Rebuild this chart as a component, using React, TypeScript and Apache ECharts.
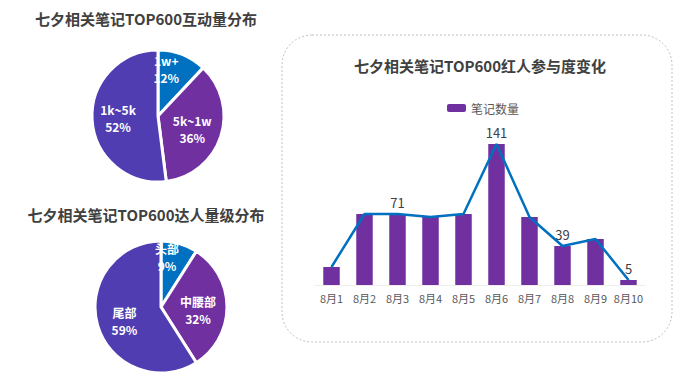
import React, { useEffect, useRef } from "react";
import * as echarts from "echarts";

const titles = ["七夕相关笔记TOP600互动量分布", "七夕相关笔记TOP600达人量级分布", "七夕相关笔记TOP600红人参与度变化"];

const interactNames = ["1w+", "5k~1w", "1k~5k"];
const interactValues = [12, 36, 52];

const kolNames = ["头部", "中腰部", "尾部"];
const kolValues = [9, 32, 59];

const days = ["8月1", "8月2", "8月3", "8月4", "8月5", "8月6", "8月7", "8月8", "8月9", "8月10"];
const noteCounts = [18, 71, 71, 68, 71, 141, 68, 39, 46, 5];
const labelledDays = ["8月3", "8月6", "8月8", "8月10"];

const sliceColors = ["#0070C0", "#7030A0", "#503DB2"];
const FONT = "'Noto Sans CJK SC', 'Microsoft YaHei', sans-serif";

export default function App() {
  const ref = useRef<HTMLDivElement>(null);
  useEffect(() => {
    document.body.style.margin = "0";
    const chart = echarts.init(ref.current!, undefined, { renderer: "svg" });
    const pieOffsets1 = [[-5, -14], [0, 2], [-4, 0]];
    const pieOffsets2 = [[-4, -15], [1, 3], [-2, 4]];
    const mkPie = (names: string[], values: number[], center: number[], offs: number[][]) => ({
      type: "pie",
      center,
      radius: 66,
      startAngle: 90,
      clockwise: true,
      silent: true,
      label: {
        show: true,
        position: "inside",
        color: "#ffffff",
        fontSize: 12,
        fontWeight: "bold",
        lineHeight: 17,
        fontFamily: FONT,
        formatter: "{b}\n{c}%",
      },
      labelLine: { show: false },
      itemStyle: { borderColor: "#ffffff", borderWidth: 3 },
      data: names.map((n, i) => ({
        name: n,
        value: values[i],
        itemStyle: { color: sliceColors[i] },
        label: { offset: offs[i] },
      })),
    });
    chart.setOption({
      animation: false,
      textStyle: { fontFamily: FONT },
      title: [
        { text: titles[0], left: 141, top: 6, textAlign: "center", textStyle: { fontSize: 15, fontWeight: "bold", color: "#404040", fontFamily: FONT } },
        { text: titles[1], left: 141, top: 202, textAlign: "center", textStyle: { fontSize: 15, fontWeight: "bold", color: "#404040", fontFamily: FONT } },
        { text: titles[2], left: 475, top: 53, textAlign: "center", textStyle: { fontSize: 15, fontWeight: "bold", color: "#404040", fontFamily: FONT } },
      ],
      graphic: [
        {
          type: "rect",
          shape: { x: 282, y: 35, width: 390, height: 307, r: 30 },
          style: { fill: "none", stroke: "#bfbfbf", lineWidth: 1, lineDash: [2, 2] },
          silent: true,
        },
      ],
      legend: {
        data: ["笔记数量"],
        left: 442,
        top: 97,
        itemWidth: 19,
        itemHeight: 8,
        itemGap: 4,
        textStyle: { fontSize: 12, color: "#595959", fontFamily: FONT },
      },
      grid: { left: 315, width: 330, top: 125, height: 160, containLabel: false },
      xAxis: {
        type: "category",
        data: days,
        axisLine: { show: true, lineStyle: { color: "#eeeeee" } },
        axisTick: { show: false },
        axisLabel: { color: "#595959", fontSize: 11, margin: 7, interval: 0, fontFamily: FONT },
      },
      yAxis: { type: "value", min: 0, max: 160, show: false, splitLine: { show: false } },
      series: [
        mkPie(interactNames, interactValues, [158, 116], pieOffsets1),
        mkPie(kolNames, kolValues, [161, 307], pieOffsets2),
        {
          name: "笔记数量",
          type: "bar",
          barWidth: "50%",
          itemStyle: { color: "#7030A0" },
          data: days.map((d, i) => ({
            value: noteCounts[i],
            label: {
              show: labelledDays.includes(d),
              position: "top",
              distance: 5,
              color: "#404040",
              fontSize: 13,
              fontFamily: FONT,
            },
          })),
        },
        {
          name: "趋势",
          type: "line",
          data: noteCounts,
          showSymbol: false,
          symbol: "none",
          lineStyle: { color: "#0070C0", width: 2.5 },
          itemStyle: { color: "#0070C0" },
          z: 3,
        },
      ],
    });
    return () => chart.dispose();
  }, []);
  return <div ref={ref} style={{ width: 695, height: 383 }} />;
}
